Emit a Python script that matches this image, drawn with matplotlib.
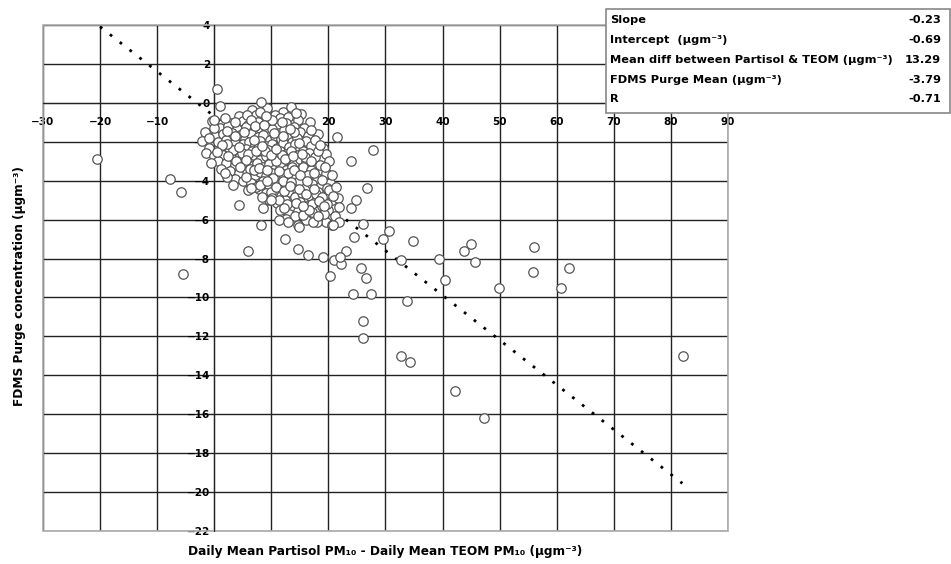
import matplotlib
matplotlib.use('Agg')
import matplotlib.pyplot as plt
from matplotlib.patches import Rectangle

plt.rcParams['font.family'] = ['DejaVu Sans']
plt.rcParams['font.weight'] = 'bold'

# dense cloud of daily values (x = Partisol - TEOM, y = FDMS purge)
core_pts = [
    (6.6, -0.35), (9.2, -0.25), (12.1, -0.45), (13.4, -0.2), (15.2, -0.55), (10.7, -0.6),
    (4.3, -0.7), (7.3, -0.65), (8.4, -0.85), (11.6, -0.8), (13.0, -0.75), (14.6, -0.9),
    (16.8, -1.0), (-0.4, -0.95), (2.8, -1.05), (5.1, -0.95), (6.0, -1.15), (7.7, -1.0),
    (9.6, -1.1), (11.0, -1.2), (12.6, -1.05), (14.0, -1.25), (15.7, -1.3),
    (1.0, -1.3), (2.4, -1.2), (4.0, -1.35), (5.6, -1.25), (6.9, -1.4), (8.1, -1.3),
    (9.0, -1.5), (10.1, -1.35), (11.3, -1.55), (12.3, -1.4), (13.6, -1.6), (15.1, -1.5),
    (16.4, -1.7), (-1.6, -1.5), (0.2, -1.7), (1.6, -1.6), (3.1, -1.55), (4.6, -1.65),
    (5.4, -1.85), (6.5, -1.6), (7.6, -1.75), (8.6, -1.65), (9.7, -1.9), (10.6, -1.7),
    (11.7, -1.85), (12.8, -1.75), (13.7, -2.0), (14.5, -1.8), (16.0, -1.95), (18.1, -1.6),
    (-2.2, -1.95), (0.6, -2.0), (2.0, -1.9), (3.6, -2.05), (5.0, -2.1), (6.1, -2.0),
    (7.1, -2.15), (8.0, -1.95), (9.1, -2.2), (10.2, -2.1), (11.0, -2.3), (12.1, -2.05),
    (13.1, -2.25), (14.1, -2.1), (15.0, -2.35), (17.0, -2.2), (-1.0, -2.3), (1.1, -2.4),
    (2.6, -2.3), (4.1, -2.45), (5.6, -2.35), (6.6, -2.5), (7.6, -2.3), (8.6, -2.55),
    (9.5, -2.4), (10.6, -2.6), (11.6, -2.45), (12.6, -2.65), (13.5, -2.5), (14.6, -2.7),
    (15.6, -2.45), (16.6, -2.6), (19.0, -2.3), (-1.5, -2.6), (0.0, -2.75), (1.6, -2.7),
    (3.0, -2.8), (4.6, -2.75), (6.0, -2.9), (7.0, -2.7), (8.1, -2.95), (9.0, -2.75),
    (10.0, -3.0), (11.1, -2.85), (12.0, -3.05), (13.0, -2.9), (14.0, -3.1), (15.1, -2.9),
    (16.0, -3.05), (17.6, -2.8), (19.6, -2.65), (0.7, -3.0), (2.1, -3.1), (3.6, -3.2),
    (5.1, -3.1), (6.6, -3.25), (7.5, -3.1), (8.6, -3.3), (9.6, -3.15), (10.6, -3.4),
    (11.5, -3.2), (12.5, -3.45), (13.6, -3.3), (14.6, -3.5), (15.5, -3.3), (17.0, -3.45),
    (18.5, -3.2), (20.1, -3.0), (1.2, -3.4), (2.8, -3.5), (4.3, -3.6), (5.8, -3.5),
    (7.1, -3.7), (8.1, -3.55), (9.1, -3.75), (10.1, -3.6), (11.1, -3.8), (12.1, -3.65),
    (13.1, -3.85), (14.1, -3.7), (15.3, -3.9), (16.4, -3.7), (18.0, -3.85), (19.5, -3.6),
    (3.6, -3.9), (5.0, -4.0), (6.5, -4.1), (8.6, -4.0), (9.6, -4.2), (10.5, -4.05),
    (11.5, -4.3), (12.6, -4.15), (13.6, -4.4), (14.5, -4.2), (16.0, -4.35), (17.2, -4.15),
    (18.6, -4.3), (20.3, -4.1), (6.0, -4.5), (7.8, -4.45), (9.1, -4.65), (10.4, -4.55),
    (11.7, -4.8), (13.0, -4.6), (14.2, -4.85), (15.4, -4.65), (16.8, -4.8), (18.1, -4.6),
    (19.6, -4.75), (9.6, -5.0), (11.0, -5.15), (12.4, -5.0), (13.6, -5.3), (15.0, -5.1),
    (16.3, -5.3), (17.6, -5.1), (19.0, -5.25), (20.6, -5.0), (11.6, -5.5), (13.1, -5.7),
    (14.6, -5.55), (17.1, -5.6), (18.5, -5.8), (20.0, -5.5), (21.2, -5.8), (12.6, -5.95),
    (16.0, -6.0), (19.5, -6.1), (7.0, -1.9), (8.9, -2.5), (10.8, -3.0), (12.9, -3.6),
    (6.3, -3.4), (4.9, -2.6), (3.3, -2.4), (9.9, -4.6), (14.9, -4.0), (17.8, -4.7),
    (11.9, -2.7), (13.9, -1.5), (7.4, -4.3), (15.9, -2.8), (2.2, -2.1), (18.8, -5.3),
    # second pass over the densest part of the cloud
    (5.8, -0.6), (8.0, -0.45), (10.2, -0.9), (11.9, -1.0), (14.3, -0.5), (3.6, -1.0),
    (6.4, -0.9), (9.0, -0.7), (7.1, -1.2), (8.8, -1.15), (10.5, -1.55), (12.0, -1.7),
    (13.2, -1.35), (14.8, -2.05), (5.2, -1.5), (3.7, -1.7), (2.3, -1.45), (1.3, -2.15),
    (4.3, -2.25), (5.9, -2.65), (7.3, -2.5), (8.3, -2.2), (9.9, -2.7), (10.8, -2.35),
    (12.4, -2.9), (13.8, -2.75), (15.3, -2.65), (16.9, -3.0), (18.2, -2.5), (0.5, -2.55),
    (2.4, -2.75), (3.9, -3.0), (5.5, -2.95), (6.9, -3.45), (7.9, -3.35), (9.3, -3.45),
    (10.3, -3.85), (11.3, -3.5), (12.0, -4.0), (13.4, -4.05), (14.0, -3.45), (15.0, -3.7),
    (16.2, -4.0), (17.5, -3.6), (18.8, -3.95), (19.8, -4.4), (2.3, -3.8), (4.5, -3.3),
    (5.5, -3.8), (6.4, -4.4), (8.1, -4.2), (9.2, -4.0), (10.9, -4.35), (12.2, -4.55),
    (13.2, -4.25), (14.9, -4.45), (16.0, -4.7), (17.4, -4.45), (18.9, -4.85), (20.1, -4.5),
    (8.4, -4.85), (10.2, -4.9), (11.4, -5.0), (12.8, -5.2), (14.3, -5.15), (15.7, -5.4),
    (17.1, -5.2), (18.3, -5.05), (19.8, -5.2), (21.6, -4.9), (12.3, -5.4), (14.2, -5.8),
    (15.6, -5.75), (16.6, -5.5), (18.0, -6.1), (19.2, -5.7), (20.6, -6.3), (21.8, -5.35),
    (1.8, -0.8), (0.0, -1.3), (-0.9, -1.8), (-0.5, -3.1), (1.8, -3.6), (3.2, -4.2),
    (16.9, -1.4), (17.6, -1.9), (18.5, -2.15), (19.4, -3.3), (20.7, -3.7), (21.3, -4.3),
]

# scattered points away from the main cloud
outer_x = [-20.5, -7.7, -5.8, -5.4, 0.5, 1.0, 8.2, 0.0, 21.5, 27.8, 24.0, 26.8,
           4.4, 8.2, 6.0, 12.4, 8.6, 10.0, 11.4, 13.0, 14.7, 15.6, 19.3, 17.3, 18.2,
           20.8, 24.9, 24.0, 21.9, 20.8, 26.1, 24.4, 14.9, 14.7, 16.5, 19.0, 21.0,
           20.3, 22.2, 23.0, 22.0, 25.7, 26.6, 24.3, 27.5, 29.6, 30.6, 26.0, 26.0,
           34.9, 32.7, 39.3, 40.5, 43.8, 45.0, 45.6, 56.1, 55.9, 62.2, 60.8, 49.9,
           33.8, 32.7, 34.3, 42.1, 47.2, 82.1]
outer_y = [-2.9, -3.9, -4.6, -8.8, 0.7, -0.15, 0.05, -0.9, -1.75, -2.4, -3.0, -4.4,
           -5.25, -6.3, -7.6, -7.0, -5.4, -5.0, -6.0, -6.1, -6.3, -5.3, -5.3, -6.1, -5.8,
           -4.8, -5.0, -5.4, -6.1, -6.3, -6.2, -6.9, -6.4, -7.5, -7.8, -7.9, -8.1,
           -8.9, -8.3, -7.6, -7.9, -8.5, -9.0, -9.8, -9.8, -7.0, -6.6, -11.2, -12.1,
           -7.1, -8.05, -8.0, -9.1, -7.6, -7.25, -8.2, -7.4, -8.7, -8.5, -9.5, -9.5,
           -10.2, -13.0, -13.3, -14.8, -16.2, -13.0]

slope = -0.23
intercept = -0.69
line_x = [-20, 82]

stat_names = ['Slope', 'Intercept  (μgm⁻³)',
              'Mean diff between Partisol & TEOM (μgm⁻³)',
              'FDMS Purge Mean (μgm⁻³)', 'R']
stat_values = ['-0.23', '-0.69', '13.29', '-3.79', '-0.71']

fig = plt.figure(figsize=(9.51, 5.64), dpi=100)
ax = fig.add_axes([0.0452, 0.0585, 0.7203, 0.8972])

ax.set_xlim(-30, 90)
ax.set_ylim(-22, 4)
ax.set_xticks(range(-30, 91, 10))
ax.set_yticks(range(-22, 5, 2))
ax.grid(True, color='#222222', linewidth=1.0)
ax.set_axisbelow(True)

for s in ['top', 'right']:
    ax.spines[s].set_visible(False)
ax.spines['left'].set_position(('data', 0))
ax.spines['bottom'].set_position(('data', 0))
ax.spines['left'].set_color('#222222')
ax.spines['bottom'].set_color('#222222')
ax.add_patch(Rectangle((0, 0), 1, 1, transform=ax.transAxes, fill=False,
                       edgecolor='#aaaaaa', linewidth=1.2, clip_on=False))
ax.tick_params(length=0, labelsize=7.5)
ax.tick_params(axis='x', pad=10)
ax.tick_params(axis='y', pad=3)
for lab in ax.get_xticklabels() + ax.get_yticklabels():
    lab.set_fontweight('bold')

line_y = [slope * v + intercept for v in line_x]
ax.plot(line_x, line_y, linestyle=(0, (1, 3.5)), color='black', lw=2, zorder=2.5)

cx = [p[0] for p in core_pts]
cy = [p[1] for p in core_pts]
ax.plot(cx + outer_x, cy + outer_y, 'o', ms=6.8, mfc='white', mec='#555555',
        mew=0.9, zorder=3)

fig.text(0.405, 0.022, 'Daily Mean Partisol PM₁₀ - Daily Mean TEOM PM₁₀ (μgm⁻³)',
         ha='center', va='center', fontsize=8.7, fontweight='bold')
fig.text(0.021, 0.493, 'FDMS Purge concentration (μgm⁻³)', rotation=90,
         ha='center', va='center', fontsize=8.7, fontweight='bold')

# stats box
fig.patches.append(Rectangle((606 / 951, 1 - 113 / 564), 344 / 951, 104 / 564,
                             transform=fig.transFigure, fill=True, facecolor='white',
                             edgecolor='#888888', linewidth=1.2))
row_y = [20, 40, 60, 80, 99]
for name, val, py in zip(stat_names, stat_values, row_y):
    fig.text(610 / 951, 1 - py / 564, name, ha='left', va='center', fontsize=8.2,
             fontweight='bold')
    fig.text(941 / 951, 1 - py / 564, val, ha='right', va='center', fontsize=8.2,
             fontweight='bold')

fig.savefig('out.png', dpi=100)
